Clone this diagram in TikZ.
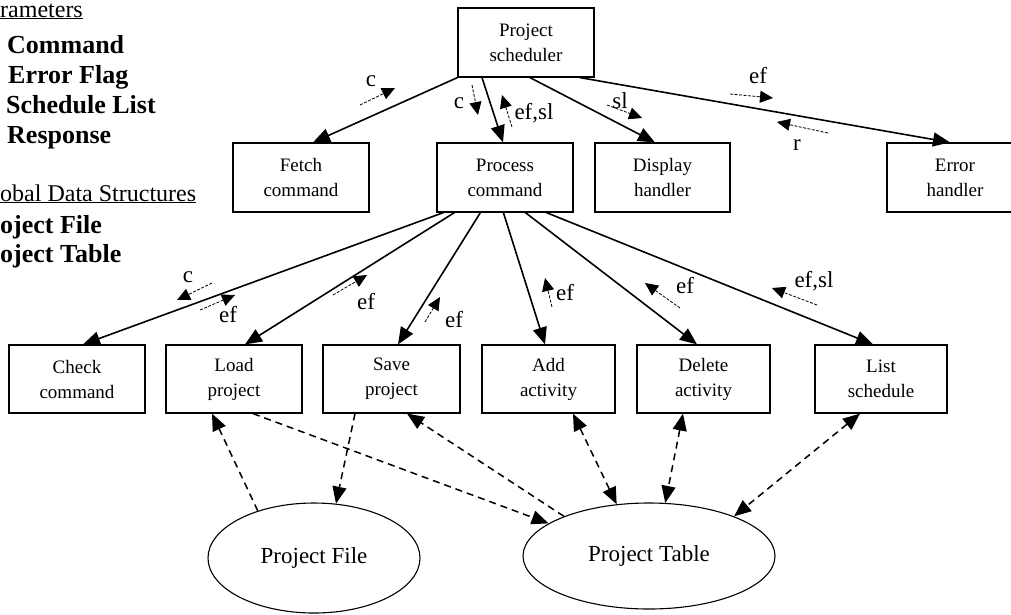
\documentclass[tikz,border=0pt]{standalone}
\usepackage{fontspec}
\setmainfont{Liberation Serif}
\usetikzlibrary{arrows.meta,shapes.geometric}

\begin{document}
\begin{tikzpicture}[x=1pt,y=-1pt,
  modbox/.style={draw,line width=1.2pt,minimum width=136pt,minimum height=69pt,
    inner sep=0pt,align=center,font=\fontsize{19}{25}\selectfont},
  store/.style={draw,ellipse,line width=1.1pt,inner sep=0pt,font=\fontsize{23}{28}\selectfont},
  call/.style={line width=1.6pt,-{Triangle[length=17pt,width=14pt]}},
  data/.style={line width=1.5pt,dash pattern=on 7pt off 5pt,-{Triangle[length=17pt,width=14pt]}},
  both/.style={data,{Triangle[length=17pt,width=14pt]}-{Triangle[length=17pt,width=14pt]}},
  flow/.style={line width=0.8pt,dash pattern=on 3pt off 1.5pt,-{Triangle[length=13pt,width=12pt]}},
  lbl/.style={inner sep=0pt,font=\fontsize{23}{23}\selectfont},
  key/.style={anchor=base west,inner sep=0pt,font=\fontsize{24}{24}\selectfont},
  bkey/.style={key,font=\fontsize{26}{26}\selectfont\bfseries}]

\useasboundingbox (0,0) rectangle (1011,614);

% legend
\node[key] (parhead) at (0,17) {\underline{rameters}};
\node[bkey] (kc) at (7,53) {Command};
\node[bkey] (kef) at (8,83) {Error Flag};
\node[bkey] (ksl) at (6,113) {Schedule List};
\node[bkey] (kr) at (7,143) {Response};
\node[key] (globhead) at (0,201) {\underline{obal Data Structures}};
\node[bkey] (kfile) at (0,233) {oject File};
\node[bkey] (ktable) at (0,262) {oject Table};

% modules
\node[modbox] (sched) at (526,42.5) {Project\\scheduler};
\node[modbox] (fetch) at (301,177.5) {Fetch\\command};
\node[modbox] (proc) at (505,177.5) {Process\\command};
\node[modbox,minimum width=135pt] (disp) at (662.5,177.5) {Display\\handler};
\node[modbox] (err) at (955,177.5) {Error\\handler};

\node[modbox,minimum height=68pt] (check) at (77,379) {Check\\command};
\node[modbox,minimum height=68pt] (load) at (234,379) {Load\\project};
\node[modbox,minimum height=68pt,minimum width=137pt] (save) at (391.5,379) {Save\\project};
\node[modbox,minimum height=68pt,minimum width=133pt] (add) at (548.5,379) {Add\\activity};
\node[modbox,minimum height=68pt,minimum width=133pt] (del) at (703.5,379) {Delete\\activity};
\node[modbox,minimum height=68pt,minimum width=132pt] (list) at (881,379) {List\\schedule};

% data stores
\node[store,minimum width=212pt,minimum height=110pt] (file) at (314,558) {Project File};
\node[store,minimum width=252pt,minimum height=106pt] (table) at (649,556) {Project Table};

% calls
\draw[call] (sched.south west) -- ([xshift=12pt]fetch.north);
\draw[call] ([xshift=-44pt]sched.south) -- ([xshift=-2pt]proc.north);
\draw[call] ([xshift=4pt]sched.south) -- ([xshift=-7.5pt]disp.north);
\draw[call] ([xshift=54pt]sched.south) -- ([xshift=-5pt]err.north);

\draw[call] ([xshift=7pt]proc.south west) -- ([xshift=6pt]check.north);
\draw[call] ([xshift=18pt]proc.south west) -- ([xshift=11pt]load.north);
\draw[call] ([xshift=44pt]proc.south west) -- ([xshift=6.5pt]save.north);
\draw[call] ([xshift=67pt]proc.south west) -- ([xshift=-3.5pt]add.north);
\draw[call] ([xshift=89pt]proc.south west) -- ([xshift=-6.5pt]del.north);
\draw[call] ([xshift=110pt]proc.south west) -- ([xshift=-8pt]list.north);

% data access
\draw[data] (file.140) -- ([xshift=-22pt]load.south);
\draw[data] ([xshift=-36.5pt]save.south) -- (file.68);
\draw[data] ([xshift=19pt]load.south) -- (table.162);
\draw[data] (table.155) -- ([xshift=15.5pt]save.south);
\draw[both] ([xshift=24.5pt]add.south) -- (table.122);
\draw[both] ([xshift=-20.5pt]del.south) -- (table.73);
\draw[both] ([xshift=-21pt]list.south) -- (table.25);

% couples
\foreach \xa/\ya/\xb/\yb in {360/105/395/88, 472/85/478/115, 512/127/502/95,
  607/105/642/118, 730/94/773/98, 828/133/777/122,
  212/283/177/300, 200/310/235/295, 333/295/367/275, 425/322/440/297,
  552/307/545/278, 680/308/645/283, 817/305/772/288}
\draw[flow] (\xa,\ya) -- (\xb,\yb);

\node[lbl] (c1) at (371,81) {c};
\node[lbl] (c2) at (459,103) {c};
\node[lbl] (efsl1) at (534,113) {ef,sl};
\node[lbl] (sl1) at (620,101) {sl};
\node[lbl] (ef1) at (758,76) {ef};
\node[lbl] (r1) at (797,145) {r};
\node[lbl] (c3) at (188,277) {c};
\node[lbl] (ef2) at (228,315) {ef};
\node[lbl] (ef3) at (366,302) {ef};
\node[lbl] (ef4) at (454,320) {ef};
\node[lbl] (ef5) at (565,293) {ef};
\node[lbl] (ef6) at (685,286) {ef};
\node[lbl] (efsl2) at (814,281) {ef,sl};

\end{tikzpicture}
\end{document}
